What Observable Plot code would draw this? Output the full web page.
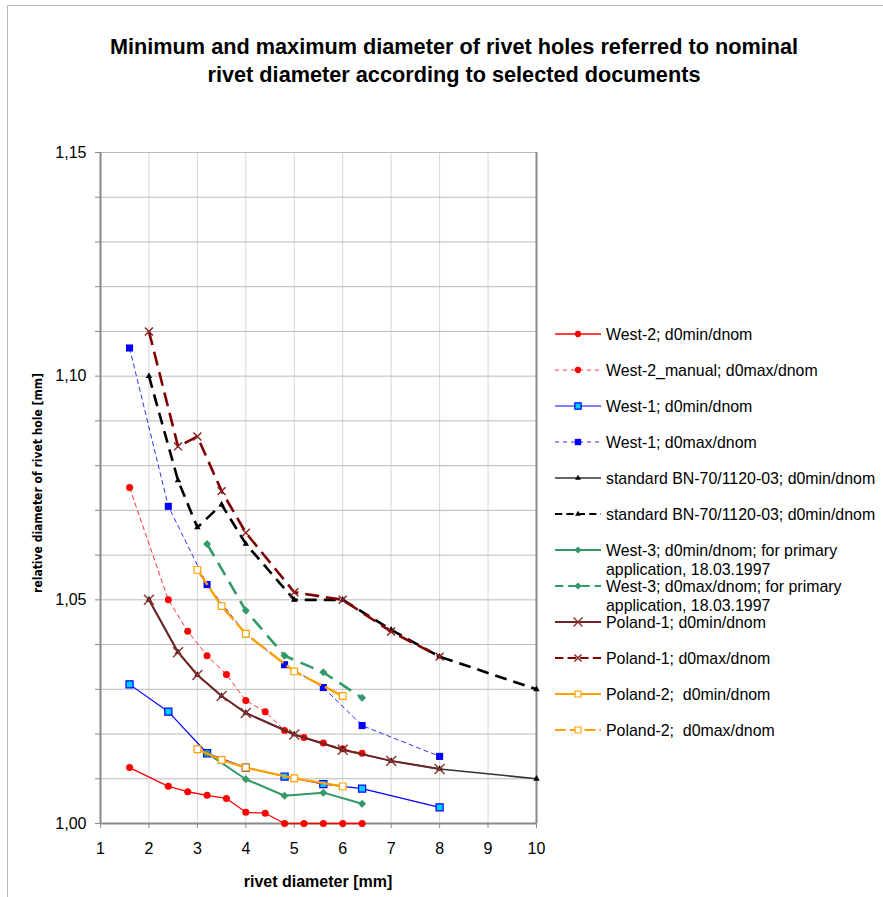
<!DOCTYPE html>
<html><head><meta charset="utf-8">
<script src="https://cdn.jsdelivr.net/npm/d3@7"></script>
<script src="https://cdn.jsdelivr.net/npm/@observablehq/plot@0.6"></script>
<style>
body{margin:0;background:#fff;font-family:"Liberation Sans",Arial,sans-serif;}
#wrap{position:relative;width:883px;height:897px;overflow:hidden;background:#fff;}
#border{position:absolute;left:7px;top:5px;width:900px;height:900px;border-left:1px solid #b8b8b8;border-top:1px solid #b8b8b8;}
#chart{position:absolute;left:0;top:0;}
#title{position:absolute;left:54px;width:800px;top:33px;text-align:center;font-weight:bold;font-size:21.7px;line-height:28px;color:#000;}
#ytitle{position:absolute;left:38px;top:483px;transform:translate(-50%,-50%) rotate(-90deg);white-space:nowrap;font-family:"Liberation Sans Narrow","DejaVu Sans Condensed",Arial,sans-serif;font-weight:bold;font-size:12px;color:#000;}
#xtitle{position:absolute;left:318px;top:882px;transform:translate(-50%,-50%);white-space:nowrap;font-weight:bold;font-size:16px;color:#000;}
.item{position:absolute;left:555px;display:flex;align-items:flex-start;}
.item svg{flex:none;margin-top:3.5px;}
.item span{margin-left:5px;font-size:15.9px;line-height:19px;color:#000;white-space:nowrap;}
</style></head>
<body>
<div id="wrap">
  <div id="border"></div>
  <div id="chart"></div>
  <div id="title">Minimum and maximum diameter of rivet holes referred to nominal<br>rivet diameter according to selected documents</div>
  <div id="ytitle">relative diameter of rivet hole [mm]</div>
  <div id="xtitle">rivet diameter [mm]</div>
  <div id="legend"></div>
</div>
<script>
// ---- data ----
const west2X   = [1.6, 2.4, 2.8, 3.2, 3.6, 4, 4.4, 4.8, 5.2, 5.6, 6, 6.4];
const west2Min = [1.0125, 1.0083, 1.0071, 1.0063, 1.0056, 1.0025, 1.0023, 1.0, 1.0, 1.0, 1.0, 1.0];
const west2Max = [1.0751, 1.050, 1.043, 1.0375, 1.0333, 1.0275, 1.025, 1.0208, 1.0192, 1.018, 1.0167, 1.0157];
const west1X   = [1.6, 2.4, 3.2, 4, 4.8, 5.6, 6.4, 8];
const west1Min = [1.0311, 1.025, 1.0157, 1.0125, 1.0105, 1.0088, 1.0078, 1.0036];
const west1Max = [1.1063, 1.0709, 1.0534, 1.0424, 1.0355, 1.0304, 1.0219, 1.015];
const stdX     = [2, 2.6, 3, 3.5, 4, 5, 6, 7, 8, 10];
const stdMin   = [1.05, 1.0383, 1.0332, 1.0285, 1.0247, 1.0199, 1.0165, 1.014, 1.0122, 1.010];
const stdMax   = [1.10, 1.0767, 1.0662, 1.0713, 1.0625, 1.050, 1.050, 1.0433, 1.0373, 1.030];
const west3X   = [3.2, 4, 4.8, 5.6, 6.4];
const west3Min = [1.0157, 1.0099, 1.0062, 1.0069, 1.0044];
const west3Max = [1.0625, 1.0476, 1.0375, 1.0338, 1.0281];
const pol1X    = [2, 2.6, 3, 3.5, 4, 5, 6, 7, 8];
const pol1Min  = [1.05, 1.0383, 1.0332, 1.0285, 1.0247, 1.0199, 1.0165, 1.014, 1.0122];
const pol1Max  = [1.11, 1.0843, 1.0865, 1.0743, 1.065, 1.0517, 1.05, 1.0429, 1.0373];
const pol2X    = [3, 3.5, 4, 5, 6];
const pol2Min  = [1.0166, 1.0142, 1.0125, 1.0101, 1.0083];
const pol2Max  = [1.0567, 1.0486, 1.0424, 1.034, 1.0285];
const xTicks = [1, 2, 3, 4, 5, 6, 7, 8, 9, 10];
const seriesNames = [
  "West-2; d0min/dnom",
  "West-2_manual; d0max/dnom",
  "West-1; d0min/dnom",
  "West-1; d0max/dnom",
  "standard BN-70/1120-03; d0min/dnom",
  "standard BN-70/1120-03; d0min/dnom",
  "West-3; d0min/dnom; for primary<br>application, 18.03.1997",
  "West-3; d0max/dnom; for primary<br>application, 18.03.1997",
  "Poland-1; d0min/dnom",
  "Poland-1; d0max/dnom",
  "Poland-2;&nbsp; d0min/dnom",
  "Poland-2;&nbsp; d0max/dnom"
];
const seriesX = [west2X, west2X, west1X, west1X, stdX, stdX, west3X, west3X, pol1X, pol1X, pol2X, pol2X];
const seriesY = [west2Min, west2Max, west1Min, west1Max, stdMin, stdMax, west3Min, west3Max, pol1Min, pol1Max, pol2Min, pol2Max];

// ---- styles ----
const styles = [
  {stroke:"#ff0000", sw:1.3, dash:null,   sym:"circle",   r:3.5, fill:"#ff0000", mstroke:"#ff0000", msw:0},
  {stroke:"#ff3030", sw:1,   dash:"5,3",  sym:"circle",   r:3.5, fill:"#ff0000", mstroke:"#ff0000", msw:0},
  {stroke:"#0000ff", sw:1.2, dash:null,   sym:"square",   r:4,   fill:"#00ccff", mstroke:"#0000ff", msw:1.2},
  {stroke:"#3030ff", sw:1,   dash:"5,3",  sym:"square",   r:4,   fill:"#0000ff", mstroke:"#0000ff", msw:0},
  {stroke:"#333333", sw:1.5, dash:null,   sym:"triangle", r:2.4, fill:"#000000", mstroke:"#000000", msw:0},
  {stroke:"#000000", sw:2.6, dash:"12,7", sym:"triangle", r:2.4, fill:"#000000", mstroke:"#000000", msw:0},
  {stroke:"#339966", sw:2,   dash:null,   sym:"diamond2", r:3.6, fill:"#339966", mstroke:"#339966", msw:0},
  {stroke:"#339966", sw:2.6, dash:"14,8", sym:"diamond2", r:3.6, fill:"#339966", mstroke:"#339966", msw:0},
  {stroke:"#6e2424", sw:2,   dash:null,   sym:"times",    r:4.6, fill:"none",    mstroke:"#8b3333", msw:1.4},
  {stroke:"#800000", sw:2.6, dash:"14,7", sym:"times",    r:3.7, fill:"none",    mstroke:"#8b2020", msw:1.4},
  {stroke:"#ffa000", sw:2.2, dash:null,   sym:"square",   r:3.8, fill:"#ffffff", mstroke:"#ffa000", msw:1.2},
  {stroke:"#ffa000", sw:2.4, dash:"18,4", sym:"square",   r:3.8, fill:"#ffffff", mstroke:"#ffa000", msw:1.2}
];

const fmt = d => (Math.abs(Math.round(d*100) % 5) === 0) ? d.toFixed(2).replace(".", ",") : "";
const yTicks = d3.range(0, 16).map(i => +(1 + i/100).toFixed(2));

const marks = [
  Plot.gridX(xTicks, {stroke:"#d6d6d6", strokeOpacity:1, strokeWidth:1}),
  Plot.gridY(yTicks, {stroke:"#b9b9b9", strokeOpacity:1, strokeWidth:1}),
  Plot.ruleX([1], {stroke:"#8a8a8a", strokeWidth:2}),
  Plot.ruleX([10], {stroke:"#8a8a8a", strokeWidth:2}),
  Plot.ruleY([1], {stroke:"#8a8a8a", strokeWidth:2}),
  Plot.axisX({ticks:xTicks, tickSize:5, tickPadding:14, fontSize:16, label:null, stroke:"#8a8a8a"}),
  Plot.axisY({ticks:yTicks, tickSize:5, tickPadding:9, fontSize:16, label:null, tickFormat:fmt, stroke:"#8a8a8a"})
];
seriesY.forEach((ys, i) => {
  const s = styles[i];
  const rows = ys.map((y, j) => ({x: seriesX[i][j], y}));
  marks.push(Plot.line(rows, {x:"x", y:"y", stroke:s.stroke, strokeWidth:s.sw, strokeDasharray:s.dash || undefined, strokeLinecap:"butt", strokeLinejoin:"round"}));
  marks.push(Plot.dot(rows, {x:"x", y:"y", symbol:s.sym, r:s.r, fill:s.fill, stroke:s.msw ? s.mstroke : "none", strokeWidth:s.msw || 0}));
});

const chart = Plot.plot({
  width: 883, height: 897,
  marginLeft: 100, marginRight: 347, marginTop: 152, marginBottom: 74,
  style: {fontFamily: "'Liberation Sans', Arial, sans-serif", color: "#000", background: "transparent"},
  x: {domain: [1, 10]},
  y: {domain: [1, 1.15]},
  marks
});
document.getElementById("chart").appendChild(chart);

// ---- legend ----
const symMap = {circle:d3.symbolCircle, square:d3.symbolSquare, triangle:d3.symbolTriangle, diamond2:d3.symbolDiamond2, times:d3.symbolTimes};
const legend = document.getElementById("legend");
seriesNames.forEach((name, i) => {
  const s = styles[i];
  const item = document.createElement("div");
  item.className = "item";
  item.style.top = (334 + i*36 - 9.5) + "px";
  const ns = "http://www.w3.org/2000/svg";
  const svg = document.createElementNS(ns, "svg");
  svg.setAttribute("width", 46); svg.setAttribute("height", 12);
  const line = document.createElementNS(ns, "line");
  line.setAttribute("x1", 0); line.setAttribute("x2", 46); line.setAttribute("y1", 6); line.setAttribute("y2", 6);
  line.setAttribute("stroke", s.stroke); line.setAttribute("stroke-width", Math.min(s.sw, 2.2));
  if (s.dash) line.setAttribute("stroke-dasharray", s.dash.split(",").map(v => Math.max(4, +v*0.6)).join(","));
  svg.appendChild(line);
  const p = document.createElementNS(ns, "path");
  p.setAttribute("d", d3.symbol(symMap[s.sym], Math.PI*s.r*s.r*0.8)());
  p.setAttribute("transform", "translate(23,6)");
  p.setAttribute("fill", s.fill);
  p.setAttribute("stroke", s.msw ? s.mstroke : "none");
  p.setAttribute("stroke-width", s.msw || 0);
  svg.appendChild(p);
  item.appendChild(svg);
  const t = document.createElement("span");
  t.innerHTML = name;
  item.appendChild(t);
  legend.appendChild(item);
});
</script>
</body></html>
